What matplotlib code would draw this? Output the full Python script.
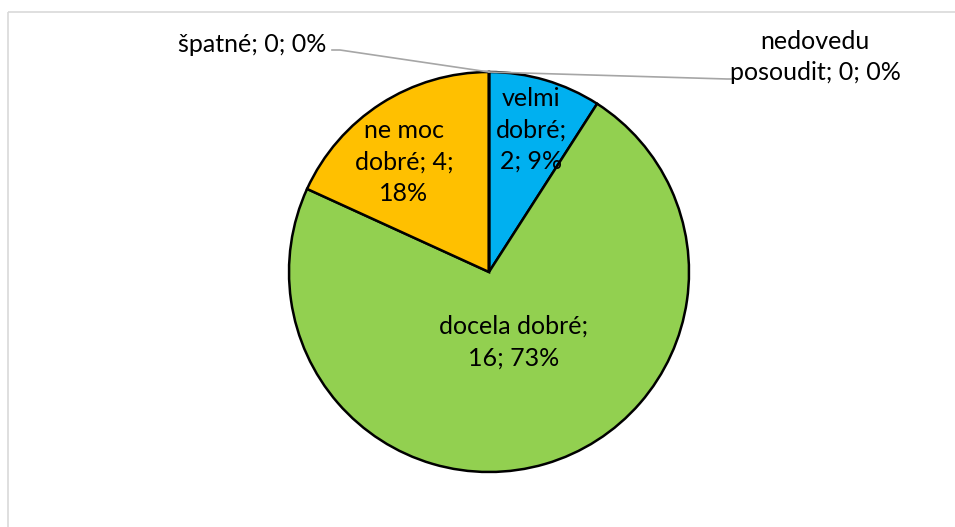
import matplotlib
matplotlib.use("Agg")
import matplotlib.pyplot as plt
from matplotlib.patches import Rectangle

categories = ["velmi dobré", "docela dobré", "ne moc dobré", "špatné", "nedovedu posoudit"]
counts = [2, 16, 4, 0, 0]
colors = ["#00B0F0", "#92D050", "#FFC000", "#C00000", "#7F7F7F"]
percents = ["9%", "73%", "18%", "0%", "0%"]

W, H = 955, 527
plt.rcParams["font.family"] = ["Lato", "DejaVu Sans"]
fig = plt.figure(figsize=(W / 100, H / 100), dpi=100)
ax = fig.add_axes([0, 0, 1, 1])

# chart frame
ax.add_patch(Rectangle((8, 12), 1000, 600, fill=False, edgecolor="#D9D9D9", lw=1.2))

cx, cy, r = 489, 272, 200
# y axis is inverted (pixel-like coords), so startangle/orientation are mirrored
wedges, _ = ax.pie(counts, colors=colors, startangle=-90, counterclock=True,
                   center=(cx, cy), radius=r, frame=True,
                   wedgeprops=dict(edgecolor="black", linewidth=1.8))
ax.set_xlim(0, W)
ax.set_ylim(H, 0)
ax.set_aspect("equal")
ax.axis("off")

fs = 18
ls = 1.45
def lab(text, x, y, ha="center"):
    ax.text(x, y, text, ha=ha, va="center", fontsize=fs, linespacing=ls, color="black")

lab(f"velmi\ndobré;\n{counts[0]}; {percents[0]}", 531, 130)
lab(f"ne moc\ndobré; {counts[2]};\n{percents[2]}", 404, 162)
lab(f"docela dobré;\n{counts[1]}; {percents[1]}", 514, 342)
lab(f"{categories[3]}; {counts[3]}; {percents[3]}", 326, 45, ha="right")
lab(f"nedovedu\nposoudit; {counts[4]}; {percents[4]}", 815, 57)

# leader lines
ax.plot([332, 340, 489], [50, 50, 72], color="#A6A6A6", lw=1.2)
ax.plot([489, 727, 731], [72, 79, 79], color="#A6A6A6", lw=1.2)

fig.savefig("out.png", dpi=100)
